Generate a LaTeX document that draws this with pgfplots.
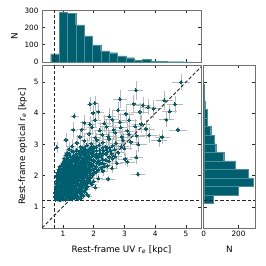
\documentclass[border=0pt]{standalone}
\usepackage{fontspec}
\setmainfont{DejaVu Sans}
\usepackage{pgfplots}
\usepackage{pgfplotstable}
\pgfplotsset{compat=1.18}
\definecolor{tealc}{HTML}{005F6E}
\definecolor{spine}{HTML}{707070}

\pgfplotstableread{
x y ex ey
0.76 1.22 0.05 0.06
0.84 1.24 0.04 0.07
0.92 1.22 0.06 0.05
1.00 1.25 0.05 0.08
1.08 1.23 0.07 0.06
1.17 1.26 0.05 0.07
1.26 1.24 0.08 0.06
1.36 1.27 0.06 0.09
1.48 1.25 0.10 0.07
1.60 1.28 0.09 0.08
0.74 1.33 0.04 0.07
0.80 1.36 0.05 0.06
0.88 1.31 0.06 0.08
0.96 1.35 0.05 0.06
1.03 1.32 0.07 0.07
1.11 1.37 0.05 0.09
1.19 1.33 0.06 0.06
1.27 1.38 0.08 0.08
1.35 1.34 0.07 0.07
1.44 1.37 0.09 0.06
1.52 1.32 0.08 0.09
1.66 1.36 0.11 0.08
1.83 1.35 0.12 0.07
0.75 1.45 0.05 0.08
0.82 1.42 0.04 0.06
0.89 1.47 0.06 0.09
0.95 1.43 0.05 0.07
1.01 1.48 0.07 0.08
1.07 1.44 0.06 0.06
1.13 1.49 0.05 0.10
1.20 1.42 0.08 0.07
1.26 1.46 0.06 0.08
1.33 1.48 0.07 0.09
1.40 1.43 0.09 0.07
1.48 1.47 0.08 0.10
1.57 1.44 0.10 0.08
1.70 1.48 0.11 0.09
1.78 1.41 0.13 0.07
0.76 1.55 0.05 0.09
0.83 1.52 0.06 0.07
0.88 1.58 0.05 0.10
0.94 1.53 0.07 0.08
1.00 1.57 0.06 0.09
1.06 1.51 0.05 0.07
1.12 1.56 0.08 0.10
1.18 1.53 0.06 0.08
1.24 1.58 0.07 0.11
1.30 1.52 0.09 0.08
1.37 1.57 0.07 0.09
1.45 1.54 0.10 0.10
1.54 1.59 0.09 0.08
1.63 1.53 0.11 0.11
1.75 1.57 0.12 0.09
0.77 1.63 0.05 0.10
0.84 1.67 0.06 0.08
0.90 1.62 0.05 0.11
0.96 1.66 0.07 0.09
1.02 1.61 0.06 0.10
1.08 1.68 0.08 0.12
1.14 1.63 0.06 0.09
1.20 1.67 0.07 0.10
1.27 1.62 0.09 0.11
1.33 1.68 0.08 0.09
1.40 1.64 0.10 0.12
1.47 1.69 0.09 0.10
1.55 1.63 0.11 0.11
1.64 1.67 0.10 0.13
1.80 1.65 0.13 0.10
2.05 1.62 0.15 0.12
0.78 1.74 0.05 0.11
0.85 1.71 0.06 0.09
0.91 1.77 0.07 0.12
0.97 1.72 0.06 0.10
1.03 1.78 0.08 0.11
1.09 1.73 0.07 0.13
1.15 1.76 0.06 0.10
1.22 1.71 0.09 0.12
1.28 1.77 0.08 0.11
1.35 1.73 0.10 0.13
1.42 1.78 0.09 0.10
1.50 1.72 0.11 0.12
1.58 1.76 0.10 0.14
1.68 1.74 0.12 0.11
1.82 1.79 0.13 0.13
1.95 1.72 0.15 0.12
0.80 1.85 0.06 0.12
0.86 1.82 0.05 0.10
0.92 1.88 0.07 0.13
0.98 1.83 0.06 0.11
1.04 1.87 0.08 0.12
1.10 1.81 0.07 0.14
1.16 1.86 0.09 0.11
1.23 1.83 0.08 0.13
1.29 1.88 0.10 0.12
1.36 1.82 0.09 0.14
1.43 1.87 0.11 0.11
1.51 1.84 0.10 0.13
1.60 1.89 0.12 0.15
1.70 1.83 0.11 0.12
1.85 1.86 0.14 0.14
2.00 1.82 0.15 0.13
0.82 1.93 0.06 0.13
0.88 1.97 0.07 0.11
0.94 1.92 0.06 0.14
1.00 1.96 0.08 0.12
1.06 1.91 0.07 0.13
1.12 1.98 0.09 0.15
1.18 1.93 0.08 0.12
1.25 1.97 0.10 0.14
1.31 1.92 0.09 0.13
1.38 1.96 0.11 0.15
1.46 1.93 0.10 0.12
1.54 1.98 0.12 0.14
1.63 1.92 0.11 0.16
1.74 1.96 0.13 0.13
1.90 1.94 0.14 0.15
2.15 1.91 0.16 0.14
2.47 1.90 0.22 0.10
0.85 2.04 0.07 0.14
0.92 2.01 0.06 0.12
0.98 2.07 0.08 0.15
1.04 2.02 0.07 0.13
1.10 2.06 0.09 0.14
1.17 2.03 0.08 0.16
1.23 2.08 0.10 0.13
1.30 2.01 0.09 0.15
1.36 2.06 0.11 0.14
1.43 2.02 0.10 0.16
1.51 2.07 0.12 0.13
1.59 2.03 0.11 0.15
1.68 2.08 0.13 0.17
1.79 2.02 0.12 0.14
1.95 2.06 0.15 0.16
3.44 2.05 0.22 0.08
0.88 2.13 0.07 0.15
0.95 2.17 0.08 0.13
1.02 2.12 0.07 0.16
1.09 2.16 0.09 0.14
1.16 2.11 0.08 0.15
1.22 2.18 0.10 0.17
1.29 2.13 0.09 0.14
1.36 2.17 0.11 0.16
1.43 2.12 0.10 0.15
1.50 2.16 0.12 0.17
1.58 2.11 0.11 0.14
1.67 2.17 0.13 0.16
1.77 2.13 0.12 0.18
1.90 2.18 0.14 0.15
2.08 2.12 0.16 0.17
2.30 2.15 0.18 0.16
0.92 2.24 0.08 0.16
1.00 2.21 0.07 0.14
1.07 2.26 0.09 0.17
1.14 2.22 0.08 0.15
1.21 2.27 0.10 0.16
1.28 2.23 0.09 0.18
1.35 2.28 0.11 0.15
1.42 2.22 0.10 0.17
1.50 2.26 0.12 0.16
1.58 2.21 0.11 0.18
1.66 2.27 0.13 0.15
1.76 2.23 0.12 0.17
1.88 2.28 0.14 0.19
2.02 2.22 0.15 0.16
2.25 2.26 0.17 0.18
2.60 2.24 0.20 0.15
0.97 2.34 0.08 0.17
1.05 2.31 0.09 0.15
1.13 2.36 0.08 0.18
1.21 2.32 0.10 0.16
1.29 2.37 0.09 0.17
1.37 2.33 0.11 0.19
1.45 2.38 0.10 0.16
1.53 2.32 0.12 0.18
1.62 2.36 0.11 0.17
1.72 2.31 0.13 0.19
1.84 2.37 0.12 0.16
1.98 2.33 0.14 0.18
2.18 2.38 0.16 0.17
2.45 2.32 0.19 0.19
2.75 2.40 0.22 0.16
1.02 2.44 0.09 0.18
1.12 2.47 0.10 0.16
1.22 2.42 0.09 0.19
1.32 2.46 0.11 0.17
1.42 2.43 0.10 0.18
1.52 2.48 0.12 0.20
1.62 2.42 0.11 0.17
1.73 2.46 0.13 0.19
1.85 2.43 0.12 0.18
2.00 2.47 0.15 0.20
2.20 2.42 0.17 0.17
2.50 2.46 0.20 0.19
3.10 2.44 0.25 0.15
1.05 2.55 0.09 0.19
1.18 2.52 0.10 0.17
1.30 2.57 0.11 0.20
1.42 2.53 0.12 0.18
1.54 2.58 0.11 0.19
1.66 2.52 0.13 0.21
1.78 2.56 0.12 0.18
1.92 2.53 0.14 0.20
2.08 2.58 0.16 0.19
2.30 2.52 0.18 0.21
2.62 2.55 0.21 0.18
3.02 2.54 0.24 0.20
3.39 2.59 0.20 0.22
1.10 2.65 0.10 0.20
1.25 2.62 0.11 0.18
1.40 2.67 0.12 0.21
1.55 2.63 0.13 0.19
1.70 2.68 0.12 0.22
1.85 2.62 0.14 0.20
2.00 2.66 0.15 0.21
2.18 2.63 0.17 0.19
2.40 2.68 0.19 0.22
2.70 2.62 0.22 0.20
1.15 2.74 0.10 0.21
1.35 2.77 0.12 0.19
1.52 2.72 0.13 0.22
1.68 2.76 0.14 0.20
1.84 2.73 0.13 0.23
2.00 2.78 0.16 0.21
2.20 2.72 0.18 0.22
2.45 2.76 0.20 0.20
2.80 2.74 0.23 0.23
1.20 2.85 0.11 0.22
1.45 2.82 0.12 0.20
1.65 2.87 0.14 0.23
1.82 2.83 0.15 0.21
2.00 2.88 0.16 0.24
2.20 2.82 0.18 0.22
2.42 2.86 0.20 0.23
2.68 2.84 0.22 0.21
3.00 2.88 0.25 0.24
0.80 2.91 0.07 0.18
1.30 2.95 0.12 0.23
1.58 2.92 0.13 0.21
1.78 2.97 0.15 0.24
1.98 2.93 0.16 0.22
2.18 2.98 0.18 0.25
2.40 2.92 0.20 0.23
2.62 2.96 0.22 0.24
2.90 2.94 0.24 0.22
1.10 3.15 0.10 0.22
1.45 3.05 0.13 0.24
1.70 3.12 0.15 0.22
1.92 3.03 0.16 0.25
2.10 3.15 0.18 0.23
2.30 3.06 0.19 0.26
2.50 3.18 0.21 0.24
2.72 3.04 0.23 0.25
2.95 3.14 0.25 0.23
3.20 3.08 0.26 0.26
3.45 3.00 0.28 0.24
4.13 3.13 0.25 0.20
1.55 3.25 0.14 0.25
1.85 3.35 0.16 0.23
2.05 3.22 0.17 0.26
2.28 3.32 0.19 0.24
2.48 3.26 0.21 0.27
2.70 3.38 0.23 0.25
2.92 3.24 0.25 0.26
3.15 3.33 0.27 0.24
3.40 3.28 0.28 0.27
3.80 3.30 0.30 0.25
4.23 3.24 0.25 0.22
1.34 3.47 0.12 0.25
1.62 3.48 0.15 0.26
1.95 3.55 0.17 0.24
2.20 3.45 0.19 0.27
2.42 3.57 0.21 0.25
2.65 3.47 0.23 0.28
2.88 3.55 0.25 0.26
3.10 3.44 0.27 0.27
3.35 3.58 0.28 0.25
3.70 3.50 0.30 0.28
4.74 3.47 0.30 0.08
1.70 3.70 0.16 0.26
1.88 3.65 0.17 0.27
2.05 3.78 0.18 0.25
2.35 3.68 0.20 0.28
2.60 3.80 0.22 0.26
2.85 3.72 0.24 0.29
3.15 3.78 0.27 0.27
3.55 3.66 0.29 0.28
4.36 3.80 0.25 0.25
1.37 3.91 0.15 0.10
1.99 4.01 0.12 0.26
2.51 3.90 0.20 0.27
2.15 4.05 0.18 0.28
2.80 4.10 0.22 0.27
3.05 3.98 0.25 0.29
3.50 4.05 0.28 0.28
3.78 4.20 0.26 0.27
3.95 4.15 0.28 0.29
4.47 4.07 0.25 0.24
1.88 4.29 0.10 0.22
2.04 4.33 0.12 0.24
3.30 4.30 0.26 0.28
3.61 4.26 0.24 0.27
2.85 4.45 0.22 0.29
4.30 4.42 0.27 0.30
4.64 4.29 0.25 0.28
3.37 4.74 0.25 0.30
4.84 5.00 0.28 0.25
}\pts

\pgfplotstableread{
x y
0.80 1.29
0.96 1.29
1.12 1.30
1.30 1.29
1.42 1.30
0.78 1.39
0.92 1.39
1.04 1.40
1.16 1.39
1.30 1.40
1.44 1.40
1.60 1.39
0.79 1.50
0.91 1.50
1.03 1.50
1.15 1.50
1.27 1.50
1.40 1.50
1.52 1.50
1.65 1.49
0.80 1.60
0.93 1.59
1.05 1.60
1.17 1.59
1.30 1.60
1.43 1.60
1.58 1.60
1.72 1.61
0.81 1.69
0.94 1.70
1.06 1.70
1.18 1.70
1.31 1.70
1.45 1.70
1.62 1.70
1.75 1.70
0.83 1.80
0.95 1.80
1.07 1.79
1.19 1.80
1.32 1.80
1.46 1.80
1.63 1.80
1.77 1.80
1.90 1.78
0.85 1.90
0.97 1.90
1.09 1.90
1.21 1.89
1.34 1.90
1.49 1.90
1.66 1.90
1.80 1.91
0.79 2.00
0.89 2.00
1.01 1.99
1.13 2.00
1.27 2.00
1.40 1.99
1.55 2.00
1.71 2.00
1.86 1.99
0.82 2.09
0.91 2.10
1.06 2.10
1.20 2.09
1.33 2.10
1.47 2.10
1.62 2.09
1.73 2.10
1.86 2.10
2.00 2.09
0.86 2.20
0.97 2.19
1.11 2.20
1.25 2.19
1.39 2.20
1.54 2.20
1.70 2.19
1.83 2.20
1.96 2.20
2.15 2.19
0.90 2.29
1.01 2.30
1.17 2.29
1.33 2.30
1.49 2.29
1.66 2.30
1.78 2.29
1.92 2.30
2.08 2.29
2.35 2.30
0.99 2.39
1.09 2.40
1.25 2.39
1.41 2.40
1.57 2.39
1.68 2.40
1.79 2.40
1.92 2.39
2.10 2.40
2.30 2.39
1.08 2.50
1.25 2.49
1.37 2.50
1.48 2.50
1.60 2.49
1.72 2.50
1.86 2.50
2.00 2.50
2.16 2.49
2.40 2.50
1.15 2.59
1.32 2.60
1.48 2.60
1.60 2.59
1.73 2.60
1.92 2.60
2.10 2.60
2.25 2.61
2.50 2.60
1.20 2.70
1.45 2.70
1.62 2.70
1.78 2.70
1.93 2.70
2.10 2.70
2.30 2.70
2.58 2.70
1.28 2.79
1.58 2.80
1.75 2.80
1.92 2.80
2.10 2.80
2.32 2.80
2.55 2.80
1.70 2.90
1.90 2.90
2.08 2.91
2.30 2.90
2.52 2.90
}\extra

\pgfplotsset{
  myax/.style={
    scale only axis,
    axis line style={spine, line width=0.9pt},
    tick align=inside,
    tick style={black!85, line width=0.6pt},
    major tick length=3pt,
    tick label style={font=\fontsize{7.3}{8}\selectfont},
    label style={font=\fontsize{8.8}{10}\selectfont},
    /pgf/number format/assume math mode=true,
  },
  dline/.style={black!85, line width=0.9pt, dash pattern=on 3.5pt off 2pt},
  ebar/.style={gray!55, line width=0.5pt, mark=none, draw=none,
    error bars/error bar style={gray!55, line width=0.5pt, solid},
    error bars/error mark=none},
  dots/.style={only marks, tealc, mark=*, mark size=1.5pt,
    mark options={solid, fill=tealc, draw=tealc, line width=0pt}},
}

\begin{document}
\begin{tikzpicture}
\useasboundingbox (-42pt,-38pt) rectangle (224pt,228pt);

% main scatter
\begin{axis}[myax, at={(0,0)}, anchor=south west,
  width=159pt, height=163pt,
  xmin=0.32, xmax=5.49, ymin=0.32, ymax=5.55,
  xtick={1,2,3,4,5}, ytick={1,2,3,4,5},
  xlabel={Rest-frame UV r\textsubscript{\itshape e} [kpc]},
  ylabel={Rest-frame optical r\textsubscript{\itshape e} [kpc]},
  xlabel style={yshift=-2pt},
  clip=true]
\addplot[ebar, error bars/.cd, x dir=both, y dir=both, x explicit, y explicit]
  table[x=x, y=y, x error=ex, y error=ey] {\pts};
\addplot[ebar, error bars/.cd, x dir=both, y dir=both, x fixed=0.08, y fixed=0.12]
  table[x=x, y=y] {\extra};
\addplot[dots] table[x=x, y=y] {\pts};
\addplot[dots] table[x=x, y=y] {\extra};
\addplot[dline] coordinates {(0.72,0.32) (0.72,5.55)};
\addplot[dline] coordinates {(0.32,1.2) (5.49,1.2)};
\addplot[dline] coordinates {(0.32,0.32) (5.49,5.49)};
\end{axis}

% top histogram
\begin{axis}[myax, at={(0,166pt)}, anchor=south west,
  width=159pt, height=52pt,
  xmin=0.32, xmax=5.49, ymin=0, ymax=302,
  xtick={1,2,3,4,5}, xticklabels={},
  ytick={0,100,200,300},
  ylabel={N}]
\addplot[ybar interval, fill=tealc, draw=tealc!70!white, line width=0.3pt] coordinates {
(0.603,47) (0.874,288) (1.145,281) (1.416,216) (1.687,152) (1.958,99)
(2.229,64) (2.500,54) (2.771,35) (3.042,25) (3.313,8) (3.584,16)
(3.855,6) (4.126,3) (4.397,2) (4.668,2) (4.939,1) (5.210,1)};
\addplot[dline] coordinates {(0.72,0) (0.72,302)};
\end{axis}

% right histogram
\begin{axis}[myax, at={(161.7pt,0)}, anchor=south west,
  width=51.6pt, height=163pt,
  xmin=0, xmax=296, ymin=0.32, ymax=5.55,
  xtick={0,200}, ytick={1,2,3,4,5}, yticklabels={},
  xlabel={N}, xlabel style={yshift=-2pt}]
\addplot[xbar interval, fill=tealc, draw=tealc!70!white, line width=0.3pt] coordinates {
(52,1.107) (200,1.381) (282,1.655) (255,1.929) (180,2.203) (115,2.477)
(69,2.751) (61,3.025) (40,3.299) (20,3.573) (20,3.847) (9,4.121)
(2,4.395) (1,4.669) (1,4.943)};
\addplot[dline] coordinates {(0,1.2) (296,1.2)};
\end{axis}
\end{tikzpicture}
\end{document}
